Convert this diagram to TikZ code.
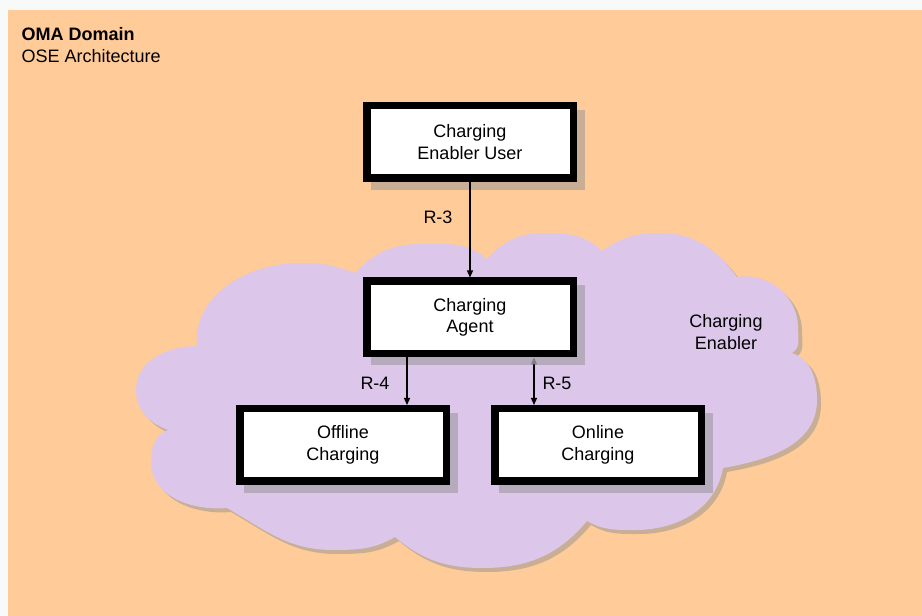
\documentclass[tikz,border=0pt]{standalone}
\usepackage{fontspec}
\setmainfont{Liberation Sans}
\usetikzlibrary{arrows.meta}
\definecolor{omaorange}{RGB}{255,203,153}
\definecolor{cloudlilac}{RGB}{220,198,234}
\definecolor{shadowgray}{RGB}{146,146,146}
\definecolor{pagegray}{RGB}{248,249,249}

\begin{document}
\begin{tikzpicture}[x=1pt,y=1pt,
        box/.style={draw,line width=7.5pt,fill=white,minimum width=206.5pt,minimum height=72.5pt,
            align=center,font=\fontsize{18}{21.5}\selectfont},
        lbl/.style={font=\fontsize{18}{21.5}\selectfont,align=center},
        iface/.style={line width=1.2pt,-{Triangle[length=7pt,width=6pt]}},
        shade/.style={fill=shadowgray,fill opacity=0.5},
        enablercloud/.style={insert path={
            (168,186) to[out=160,in=-90] (136,226) to[out=90,in=180] (197,270)
            to[out=95,in=180] (300,353) to[out=0,in=160] (355,343)
            to[out=47,in=180] (421,372) to[out=0,in=139] (487,357)
            to[out=48,in=180] (545,383) to[out=0,in=136] (602,365)
            to[out=35,in=180] (660,383) to[out=0,in=127] (737,339)
            to[out=10,in=90] (798,289) to[out=-90,in=30] (792,263)
            to[out=-20,in=90] (817,216) to[out=-90,in=10] (723,148)
            to[out=-100,in=0] (635,86) to[out=180,in=-30] (587,95)
            to[out=-130,in=0] (483,48) to[out=180,in=-40] (395,79)
            to[out=-150,in=0] (333,66) to[out=180,in=-30] (227,108)
            to[out=185,in=-90] (151,154) to[out=90,in=200] (168,186) -- cycle}}]
        % domain background
        \fill[pagegray] (0,0) rectangle (922,616);
        \fill[omaorange] (8,0) rectangle (922,606);
        \node[anchor=base west,font=\fontsize{18}{21.5}\selectfont\bfseries] (domain) at (18,575) {OMA Domain};
        \node[anchor=base west,font=\fontsize{18}{21.5}\selectfont] (arch) at (18,553) {OSE Architecture};

        % enabler cloud
        \fill[shadowgray,fill opacity=0.5,shift={(4,-4)},enablercloud];
        \fill[cloudlilac,enablercloud];
        \node[lbl] (enabler) at (726,284) {Charging\\Enabler};

        \coordinate (cu) at (470,474);
        \coordinate (ca) at (470,298.5);
        \coordinate (coff) at (343,171);
        \coordinate (con) at (598,171);
        \coordinate (r4) at (407,0);
        \coordinate (r5) at (534,0);

        \foreach \c in {cu,ca,coff,con}
            \fill[shade] ([shift={(-99,-48)}]\c) rectangle ([shift={(115,32)}]\c);

        \node[box] (user) at (cu) {Charging\\Enabler User};
        \node[box] (agent) at (ca) {Charging\\Agent};
        \node[box] (offline) at (coff) {Offline\\Charging};
        \node[box] (online) at (con) {Online\\Charging};

        \draw[iface] (user.south) -- (agent.north);
        \draw[iface] (agent.south -| r4) -- (offline.north -| r4);
        \draw[line width=1.2pt,{Triangle[length=7pt,width=6pt,color=gray]}-{Triangle[length=7pt,width=6pt]}]
            (agent.south -| r5) -- (online.north -| r5);
        \node[lbl] (r3lbl) at (438,399) {R-3};
        \node[lbl] (r4lbl) at (375,233) {R-4};
        \node[lbl] (r5lbl) at (557,233) {R-5};
    \end{tikzpicture}
\end{document}
